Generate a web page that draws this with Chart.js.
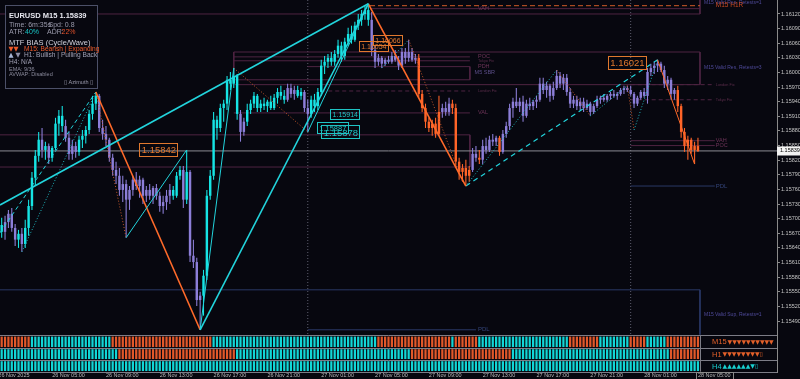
<!DOCTYPE html>
<html><head><meta charset="utf-8">
<script src="https://cdn.jsdelivr.net/npm/chart.js@4.4.1/dist/chart.umd.min.js"></script>
<style>
html,body{margin:0;padding:0;background:#07070f;overflow:hidden}
#wrap{position:relative;width:800px;height:379px}
canvas{display:block}
</style></head><body>
<div id="wrap"><canvas id="chart"></canvas></div>
<script>
// ---------------- DATA (EURUSD M15, 26 Nov 01:15 -> 28 Nov 05:00) ----------------
const opens = [
1.15687,1.15673,1.15693,1.15710,1.15681,1.15657,1.15669,1.15648,1.15681,1.15726,
1.15784,1.15829,1.15862,1.15841,1.15849,1.15825,1.15845,1.15895,1.15911,1.15890,
1.15866,1.15833,1.15849,1.15837,1.15862,1.15870,1.15882,1.15915,1.15936,1.15952,
1.15886,1.15874,1.15862,1.15825,1.15800,1.15788,1.15759,1.15771,1.15739,1.15759,
1.15780,1.15767,1.15780,1.15747,1.15759,1.15747,1.15763,1.15747,1.15726,1.15734,
1.15747,1.15759,1.15747,1.15788,1.15800,1.15739,1.15796,1.15624,1.15611,1.15533,
1.15542,1.15583,1.15747,1.15788,1.15903,1.15886,1.15927,1.15936,1.15985,1.15977,
1.15993,1.15915,1.15878,1.15899,1.15923,1.15936,1.15952,1.15927,1.15936,1.15931,
1.15940,1.15927,1.15948,1.15960,1.15952,1.15944,1.15968,1.15956,1.15964,1.15952,
1.15960,1.15927,1.15915,1.15944,1.15931,1.15960,1.16014,1.16022,1.16030,1.16022,
1.16038,1.16055,1.16034,1.16063,1.16079,1.16067,1.16096,1.16108,1.16120,1.16128,
1.16108,1.16046,1.16022,1.16030,1.16018,1.16026,1.16022,1.16034,1.16026,1.16014,
1.16042,1.16030,1.16042,1.16026,1.16030,1.15956,1.15927,1.15899,1.15886,1.15895,
1.15874,1.15919,1.15927,1.15919,1.15936,1.15927,1.15817,1.15796,1.15804,1.15788,
1.15800,1.15833,1.15825,1.15821,1.15849,1.15841,1.15862,1.15858,1.15866,1.15837,
1.15874,1.15890,1.15927,1.15940,1.15931,1.15940,1.15911,1.15936,1.15931,1.15940,
1.15944,1.15977,1.15964,1.15973,1.15952,1.15968,1.15993,1.15977,1.15989,1.15960,
1.15936,1.15944,1.15931,1.15940,1.15927,1.15936,1.15919,1.15931,1.15944,1.15948,
1.15944,1.15952,1.15956,1.15952,1.15956,1.15964,1.15968,1.15964,1.15956,1.15936,
1.15948,1.15960,1.15952,1.16001,1.16009,1.16014,1.16018,1.16005,1.15977,1.15985,
1.15956,1.15964,1.15931,1.15878,1.15849,1.15862,1.15841,1.15849];
const highs = [
1.15702,1.15706,1.15718,1.15722,1.15689,1.15677,1.15681,1.15698,1.15739,1.15796,
1.15841,1.15878,1.15886,1.15858,1.15854,1.15849,1.15907,1.15923,1.15931,1.15903,
1.15878,1.15862,1.15858,1.15870,1.15882,1.15890,1.15923,1.15952,1.15960,1.15956,
1.15903,1.15890,1.15866,1.15833,1.15817,1.15804,1.15788,1.15780,1.15767,1.15788,
1.15796,1.15788,1.15784,1.15767,1.15771,1.15767,1.15771,1.15755,1.15747,1.15759,
1.15771,1.15767,1.15796,1.15808,1.15808,1.15841,1.15800,1.15657,1.15620,1.15550,
1.15595,1.15759,1.15800,1.15919,1.15911,1.15936,1.15944,1.15993,1.16001,1.16009,
1.15997,1.15923,1.15907,1.15936,1.15944,1.15960,1.15956,1.15944,1.15948,1.15944,
1.15952,1.15956,1.15968,1.15973,1.15964,1.15977,1.15977,1.15973,1.15973,1.15968,
1.15964,1.15944,1.15952,1.15956,1.15968,1.16026,1.16034,1.16038,1.16042,1.16046,
1.16067,1.16063,1.16071,1.16092,1.16096,1.16104,1.16120,1.16128,1.16137,1.16141,
1.16124,1.16055,1.16038,1.16034,1.16030,1.16034,1.16042,1.16046,1.16034,1.16050,
1.16050,1.16067,1.16050,1.16038,1.16038,1.15964,1.15936,1.15907,1.15903,1.15907,
1.15952,1.15936,1.15940,1.15948,1.15944,1.15936,1.15825,1.15812,1.15821,1.15808,
1.15845,1.15849,1.15841,1.15862,1.15866,1.15870,1.15874,1.15870,1.15870,1.15882,
1.15899,1.15936,1.15948,1.15968,1.15948,1.15952,1.15944,1.15948,1.15944,1.15952,
1.15989,1.15989,1.15981,1.15977,1.15981,1.16005,1.16001,1.15997,1.15997,1.15968,
1.15952,1.15952,1.15948,1.15948,1.15944,1.15940,1.15936,1.15952,1.15952,1.15956,
1.15956,1.15960,1.15964,1.15960,1.15968,1.15973,1.15973,1.15973,1.15960,1.15952,
1.15964,1.15968,1.16009,1.16018,1.16022,1.16026,1.16022,1.16014,1.15993,1.15989,
1.15968,1.15973,1.15936,1.15886,1.15870,1.15866,1.15858,1.15866];
const lows = [
1.15661,1.15657,1.15681,1.15673,1.15644,1.15640,1.15632,1.15640,1.15665,1.15718,
1.15767,1.15817,1.15825,1.15821,1.15812,1.15817,1.15841,1.15870,1.15878,1.15858,
1.15821,1.15821,1.15825,1.15829,1.15845,1.15854,1.15874,1.15903,1.15923,1.15878,
1.15862,1.15849,1.15817,1.15788,1.15771,1.15747,1.15734,1.15661,1.15718,1.15747,
1.15759,1.15743,1.15730,1.15734,1.15739,1.15730,1.15739,1.15714,1.15710,1.15718,
1.15730,1.15739,1.15743,1.15780,1.15722,1.15730,1.15611,1.15599,1.15521,1.15472,
1.15501,1.15574,1.15739,1.15780,1.15862,1.15878,1.15899,1.15923,1.15964,1.15968,
1.15903,1.15858,1.15870,1.15890,1.15915,1.15927,1.15919,1.15919,1.15923,1.15919,
1.15923,1.15923,1.15936,1.15944,1.15936,1.15940,1.15948,1.15944,1.15948,1.15944,
1.15919,1.15878,1.15907,1.15919,1.15923,1.15952,1.15997,1.16009,1.16014,1.16014,
1.16030,1.16022,1.16026,1.16055,1.16059,1.16063,1.16087,1.16096,1.16108,1.16096,
1.16034,1.16009,1.16014,1.16009,1.16014,1.16018,1.16018,1.16022,1.16005,1.16009,
1.16018,1.16022,1.16022,1.16018,1.15948,1.15919,1.15886,1.15878,1.15870,1.15866,
1.15870,1.15907,1.15911,1.15911,1.15915,1.15804,1.15780,1.15776,1.15767,1.15776,
1.15796,1.15817,1.15812,1.15812,1.15833,1.15837,1.15849,1.15849,1.15829,1.15833,
1.15866,1.15882,1.15907,1.15927,1.15919,1.15899,1.15907,1.15923,1.15923,1.15927,
1.15940,1.15956,1.15948,1.15940,1.15944,1.15964,1.15968,1.15964,1.15952,1.15927,
1.15927,1.15923,1.15923,1.15919,1.15923,1.15911,1.15915,1.15927,1.15936,1.15940,
1.15940,1.15944,1.15948,1.15944,1.15952,1.15956,1.15960,1.15952,1.15927,1.15931,
1.15944,1.15948,1.15936,1.15993,1.15997,1.16001,1.16001,1.15968,1.15964,1.15944,
1.15944,1.15919,1.15866,1.15837,1.15821,1.15833,1.15812,1.15837];
const closes = [
1.15673,1.15693,1.15710,1.15681,1.15657,1.15669,1.15648,1.15681,1.15726,1.15784,
1.15829,1.15862,1.15841,1.15849,1.15825,1.15845,1.15895,1.15911,1.15890,1.15866,
1.15833,1.15849,1.15837,1.15862,1.15870,1.15882,1.15915,1.15936,1.15952,1.15886,
1.15874,1.15862,1.15825,1.15800,1.15788,1.15759,1.15771,1.15739,1.15759,1.15780,
1.15767,1.15780,1.15747,1.15759,1.15747,1.15763,1.15747,1.15726,1.15734,1.15747,
1.15759,1.15747,1.15788,1.15800,1.15739,1.15796,1.15624,1.15611,1.15533,1.15542,
1.15583,1.15747,1.15788,1.15903,1.15886,1.15927,1.15936,1.15985,1.15977,1.15993,
1.15915,1.15878,1.15899,1.15923,1.15936,1.15952,1.15927,1.15936,1.15931,1.15940,
1.15927,1.15948,1.15960,1.15952,1.15944,1.15968,1.15956,1.15964,1.15952,1.15960,
1.15927,1.15915,1.15944,1.15931,1.15960,1.16014,1.16022,1.16030,1.16022,1.16038,
1.16055,1.16034,1.16063,1.16079,1.16067,1.16096,1.16108,1.16120,1.16128,1.16108,
1.16046,1.16022,1.16030,1.16018,1.16026,1.16022,1.16034,1.16026,1.16014,1.16042,
1.16030,1.16042,1.16026,1.16030,1.15956,1.15927,1.15899,1.15886,1.15895,1.15874,
1.15919,1.15927,1.15919,1.15936,1.15927,1.15817,1.15796,1.15804,1.15788,1.15800,
1.15833,1.15825,1.15821,1.15849,1.15841,1.15862,1.15858,1.15866,1.15837,1.15874,
1.15890,1.15927,1.15940,1.15931,1.15940,1.15911,1.15936,1.15931,1.15940,1.15944,
1.15977,1.15964,1.15973,1.15952,1.15968,1.15993,1.15977,1.15989,1.15960,1.15936,
1.15944,1.15931,1.15940,1.15927,1.15936,1.15919,1.15931,1.15944,1.15948,1.15944,
1.15952,1.15956,1.15952,1.15956,1.15964,1.15968,1.15964,1.15956,1.15936,1.15948,
1.15960,1.15952,1.16001,1.16009,1.16014,1.16018,1.16005,1.15977,1.15985,1.15956,
1.15964,1.15931,1.15878,1.15849,1.15862,1.15841,1.15849,1.15839];
// candle trend state: c = bullish (cyan), p = neutral (purple), o = bearish (orange)
const candleTrend =
 "cppppcpc"+"cccc"+"p"+"c"+"p"+"cccc"+"pppp"+"cccccc"+
 "pppppppppppppppppppppp"+
 "ccc"+"p"+"c"+"pppp"+"ccccccccccc"+"pp"+"cccccccccccc"+"ppp"+"cc"+"pp"+"cccccccccccccccccc"+
 "pppppppppppppp"+"ooooooo"+"ppp"+"oooooo"+"pp"+"o"+"ppppp"+"o"+
 "pppppppppppppppppppppppppppppppppppppppppppppppppppp"+"ooooooo";
// MTF bias strip runs (o = bearish, c = bullish), one stripe per candle
const biasM15 = [['o',9],['c',24],['o',30],['c',49],['o',22],['c',1],['o',7],['c',27],['o',9],['c',9],['o',5],['c',6],['o',10]];
const biasH1  = [['c',35],['o',35],['c',52],['o',30],['c',47],['o',9]];
const biasH4  = [['c',208]];
// time axis
const timeTickIndex  = [-1,15,31,47,63,79,95,111,127,143,159,175,191,207];
const timeTickLabels = ['26 Nov 2025','26 Nov 05:00','26 Nov 09:00','26 Nov 13:00','26 Nov 17:00','26 Nov 21:00',
  '27 Nov 01:00','27 Nov 05:00','27 Nov 09:00','27 Nov 13:00','27 Nov 17:00','27 Nov 21:00','28 Nov 01:00','28 Nov 05:00'];
const priceTicks = [1.16120,1.16090,1.16060,1.16030,1.16000,1.15970,1.15940,1.15910,1.15880,1.15850,1.15820,
  1.15790,1.15760,1.15730,1.15700,1.15670,1.15640,1.15610,1.15580,1.15550,1.15520,1.15490];
// wave / trend lines  [candleIndex, price]
const waveUpA     = [[-0.5,1.15728],[109,1.16141]];
const waveUpB     = [[59,1.15472],[109,1.16141]];
const legUpC      = [[59,1.15472],[69,1.16009]];
const legUpD      = [[37,1.15661],[55,1.15841]];
const legUpE      = [[91,1.15878],[109,1.16141]];
const waveDownA   = [[28,1.15960],[59,1.15472]];
const waveDownB   = [[109,1.16141],[138,1.15767]];
const legDownC    = [[195,1.16026],[206,1.15812]];
const waveUpDash  = [[138,1.15767],[195,1.16026]];
const upDash2     = [[-0.5,1.15671],[28,1.15960]];
const upDots      = [[[6,1.15632],[28,1.15960]],[[138,1.15767],[165,1.16005]],[[175,1.15911],[186,1.15973]],[[188,1.15882],[195,1.16026]],[[113,1.16009],[121,1.16067]]];
const downDots    = [[[28,1.15960],[37,1.15661]],[[69,1.16009],[91,1.15878]],[[165,1.16005],[175,1.15911]],[[186,1.15973],[188,1.15882]],[[121,1.16067],[137,1.15776]]];
// price-tag labels of swing points
const swingTagValues = [1.15842,1.16066,1.16054,1.16021];
const swingTagIndex  = [46.6,114.7,110.5,185.9];
const pivotTagValues = [1.15914,1.15887,1.15878];
const pivotTagIndex  = [102,98.3,100.7];
// levels [fromIndex, toIndex, price]
const zoneLines   = [[109.5,207.6,1.16131],[-0.5,207.6,1.16120],[69,207.6,1.16042],[69,139.2,1.16032],[69,139.2,1.16024],
  [91,139.2,1.16012],[69,139.2,1.15985],[69,207.6,1.15975],[69,139.2,1.15917],[-0.5,139.2,1.15872],[-0.5,139.2,1.15806],
  [187,212,1.15860],[187,212,1.15850]];
const fixLines    = [[95,139.2,1.15962],[187,212,1.15975],[187,212,1.15944]];
const lowLines    = [[187,212,1.15767],[-0.5,207.6,1.15554],[91,141,1.15472]];
const vahDashLine = [[109.5,207.6,1.16137]];
// vertical zone edges [index, priceTop, priceBottom]
const zoneEdges   = [[207.6,1.16149,1.16120],[207.6,1.16042,1.15975],[139.2,1.16012,1.15985],[139.2,1.15872,1.15806],[69,1.16042,1.15985]];
const supEdges    = [[207.6,1.15554,1.15462]];
const daySeparators = [91,187];
const levelTags = [
 ['VAH',141.6,1.16131],['POC',141.6,1.16032],['Tokyo Fix',141.6,1.16024],['PDH',141.6,1.16012],['M5 SBR',140.6,1.16000],
 ['London Fix',141.6,1.15962],['VAL',141.6,1.15917],['PDL',141.6,1.15472],
 ['M15 Valid Res, Retests=1',208.8,1.16143],['M15 H1R',212.3,1.16137],['M15 Valid Res, Retests=3',208.8,1.16009],
 ['London Fix',212.3,1.15975],['Tokyo Fix',212.3,1.15944],['VAH',212.3,1.15860],['POC',212.3,1.15850],
 ['PDL',212.3,1.15767],['M15 Valid Sup, Retests=1',208.8,1.15503]];

// ---------------- STYLE / LAYOUT ----------------
const BG = '#07070f';
const COL = {c:'#16e4e4', p:'#8c7ed8', o:'#ff6428'};
const BIAS = {c:'#12d6d6', o:'#e2582a'};
const CYAN_LN = '#22d4dc', ORANGE_LN = '#ff6a2a';
const MAROON = '#4e2442', BLUE_LN = '#2a3866';
const FONT = '"Liberation Sans", Arial, sans-serif';
const X_MIN = -0.5, X_MAX = 230.5;
const Y_MAX = 1.161487, Y_MIN = 1.153854;   // pixel 0 .. 372
const IND_MAX = 31;                          // 12 px per unit on the strip axis
const ROWS = [[28.05,28.92],[29.1,29.92],[30.1,30.92]];
const BOTTOM_PRICE = 1.15462;

function expand(runs){ const out=[]; runs.forEach(([s,n])=>{ for(let k=0;k<n;k++) out.push(s); }); return out; }
const candleCol = candleTrend.split('').map(ch=>COL[ch]);

function lineDs(points, color, width, dash, order){
  return {type:'line', data: points.map(p=>({x:p[0], y:p[1]})), borderColor:color, borderWidth:width,
    borderDash:dash||[], pointRadius:0, fill:false, tension:0, yAxisID:'y', order:order, spanGaps:true};
}
const datasets = [];
zoneLines.forEach(l=>datasets.push(lineDs([[l[0],l[2]],[l[1],l[2]]], MAROON, 1, [], 10)));
fixLines.forEach(l=>datasets.push(lineDs([[l[0],l[2]],[l[1],l[2]]], MAROON, 1, [4,3], 10)));
lowLines.forEach(l=>datasets.push(lineDs([[l[0],l[2]],[l[1],l[2]]], BLUE_LN, 1, [], 10)));
vahDashLine.forEach(l=>datasets.push(lineDs([[l[0],l[2]],[l[1],l[2]]], '#d05a28', 1, [5,3], 10)));
zoneEdges.forEach(e=>datasets.push(lineDs([[e[0],e[1]],[e[0],e[2]]], MAROON, 1, [], 10)));
supEdges.forEach(e=>datasets.push(lineDs([[e[0],e[1]],[e[0],e[2]]], BLUE_LN, 1, [], 10)));
daySeparators.forEach(d=>datasets.push(lineDs([[d,Y_MAX],[d,BOTTOM_PRICE]], '#5e5e6e', 1, [1,2], 10)));
datasets.push(lineDs([[X_MIN,closes[closes.length-1]],[X_MAX,closes[closes.length-1]]], '#8c8c94', 1, [], 9));
// candles
datasets.push({type:'bar', data: highs.map((h,i)=>({x:i, y:[lows[i], h]})), backgroundColor:candleCol,
  grouped:false, categoryPercentage:1, barPercentage:0.32, borderWidth:0, inflateAmount:0, yAxisID:'y', order:6});
datasets.push({type:'bar', data: opens.map((o,i)=>({x:i, y:[o, closes[i]]})), backgroundColor:candleCol,
  grouped:false, categoryPercentage:1, barPercentage:0.72, borderWidth:0, inflateAmount:0, minBarLength:1, yAxisID:'y', order:5});
// MTF bias strips
[biasM15, biasH1, biasH4].forEach((runs, r)=>{
  const st = expand(runs);
  datasets.push({type:'bar', data: st.map((s,i)=>({x:i, y:ROWS[r]})), backgroundColor: st.map(s=>BIAS[s]),
    grouped:false, categoryPercentage:1, barPercentage:0.66, borderWidth:0, inflateAmount:0, yAxisID:'yInd', order:4});
});
// wave lines
datasets.push(lineDs(waveUpA, CYAN_LN, 1.6, [], 1));
datasets.push(lineDs(waveUpB, CYAN_LN, 1.6, [], 1));
datasets.push(lineDs(legUpC, CYAN_LN, 1, [], 1));
datasets.push(lineDs(legUpD, CYAN_LN, 1, [], 1));
datasets.push(lineDs(legUpE, CYAN_LN, 1, [], 1));
datasets.push(lineDs(waveDownA, ORANGE_LN, 1.6, [], 1));
datasets.push(lineDs(waveDownB, ORANGE_LN, 1.6, [], 1));
datasets.push(lineDs(legDownC, ORANGE_LN, 1, [], 1));
datasets.push(lineDs(waveUpDash, CYAN_LN, 1.2, [5,4], 1));
datasets.push(lineDs(upDash2, CYAN_LN, 1, [4,3], 2));
upDots.forEach(p=>datasets.push(lineDs(p, '#1fb8c0', 1, [1,2], 2)));
downDots.forEach(p=>datasets.push(lineDs(p, '#c8582a', 1, [1,2], 2)));

// ---------------- OVERLAY TEXT PLUGIN ----------------
const overlay = {
  id:'overlay',
  afterDraw(chart){
    const {ctx, scales:{x, y, yInd}} = chart;
    const right = chart.chartArea.right;
    ctx.save();
    ctx.textBaseline='middle'; ctx.textAlign='left';
    levelTags.forEach(([t,i,v])=>{
      let col = '#6e3458', size = 5.5;
      if (t.startsWith('M15 Valid')) { col='#4f4a9a'; size=5; }
      else if (t==='M15 H1R') { col='#c84a22'; size=6.5; }
      else if (t==='PDL') { col='#34457a'; size=6; }
      else if (t==='M5 SBR') { col='#5c4f8a'; size=5.5; }
      else if (t.endsWith('Fix')) { col='#5a2c4a'; size=3.8; }
      ctx.font = size+'px '+FONT; ctx.fillStyle = col;
      ctx.fillText(t, x.getPixelForValue(i), y.getPixelForValue(v));
    });
    function tag(text, idx, val, color, size){
      const px = x.getPixelForValue(idx), py = y.getPixelForValue(val);
      ctx.font = size+'px '+FONT;
      const w = Math.round(ctx.measureText(text).width + 4), h = Math.round(size + 3);
      ctx.strokeStyle = color; ctx.lineWidth = 1;
      ctx.strokeRect(Math.round(px - w/2)+0.5, Math.round(py - h/2)+0.5, w, h);
      ctx.fillStyle = color; ctx.textAlign='center'; ctx.textBaseline='middle';
      ctx.fillText(text, px+0.5, py+1);
    }
    const swingSize = [9.5,7,7,9.5];
    swingTagValues.forEach((v,k)=>tag(v.toFixed(5), swingTagIndex[k], v, '#e0782e', swingSize[k]));
    const pivSize = [7,7.5,9.5];
    pivotTagValues.forEach((v,k)=>tag(v.toFixed(5), pivotTagIndex[k], v, '#1fc4c4', pivSize[k]));

    // bias panel frame
    ctx.strokeStyle='#7c7c86'; ctx.lineWidth=1;
    const sepVals=[27.95,29.0,30.0,30.97];
    sepVals.forEach(s=>{ const py=Math.round(yInd.getPixelForValue(s))+0.5; ctx.beginPath(); ctx.moveTo(0,py); ctx.lineTo(right,py); ctx.stroke(); });
    const vx = Math.round(x.getPixelForValue(207.6))+0.5;
    ctx.beginPath(); ctx.moveTo(vx, yInd.getPixelForValue(27.95)); ctx.lineTo(vx, yInd.getPixelForValue(30.97)); ctx.stroke();
    ctx.fillStyle=BG; ctx.fillRect(vx+0.5, yInd.getPixelForValue(27.95)+1, right-vx-1, yInd.getPixelForValue(30.97)-yInd.getPixelForValue(27.95)-1);
    ctx.strokeStyle='#7c7c86';
    [29.0,30.0].forEach(s=>{ const py=Math.round(yInd.getPixelForValue(s))+0.5; ctx.beginPath(); ctx.moveTo(vx,py); ctx.lineTo(right,py); ctx.stroke(); });
    const rowLabels=[['M15','▼▼▼▼▼▼▼▼▼▼','#e2602a'],['H1','▼▼▼▼▼▼▼▼▯','#e2602a'],['H4','▲▲▲▲▲▲▼▯','#18d0d0']];
    ctx.textAlign='left'; ctx.textBaseline='middle';
    rowLabels.forEach((r,k)=>{
      const py = yInd.getPixelForValue((ROWS[k][0]+ROWS[k][1])/2)+0.5;
      ctx.font='7.5px '+FONT; ctx.fillStyle=r[2]; ctx.fillText(r[0], 712, py);
      const w = ctx.measureText(r[0]).width;
      ctx.font='6px "DejaVu Sans", sans-serif'; ctx.fillText(r[1], 712+w+1, py);
    });

    // current price label on axis
    const last = closes[closes.length-1];
    const ply = y.getPixelForValue(last);
    ctx.fillStyle='#f2f2f2'; ctx.fillRect(right, Math.round(ply)-4.5, 23, 9);
    ctx.fillStyle='#000'; ctx.font='5.5px '+FONT; ctx.textAlign='left'; ctx.textBaseline='middle';
    ctx.fillText(last.toFixed(5), right+3, ply);

    // boxed last time label
    ctx.font='5.5px '+FONT;
    const tx = x.getPixelForValue(timeTickIndex[timeTickIndex.length-1]);
    const tw = ctx.measureText(timeTickLabels[timeTickLabels.length-1]).width;
    ctx.strokeStyle='#8a8a8a'; ctx.strokeRect(Math.round(tx)-1.5, 372.5, Math.round(tw)+4, 7);

    // info panel
    ctx.fillStyle=BG; ctx.fillRect(5,5,93,84);
    ctx.strokeStyle='#4c5068'; ctx.lineWidth=1; ctx.strokeRect(5.5,5.5,92,83);
    ctx.textAlign='left'; ctx.textBaseline='alphabetic';
    ctx.font='bold 7.5px '+FONT; ctx.fillStyle='#e6e6ee'; ctx.fillText('EURUSD M15 1.15839', 9, 18.3);
    ctx.font='7px '+FONT; ctx.fillStyle='#9a9aac';
    ctx.fillText('Time: 6m:35s', 9, 26.5); ctx.fillText('Spd: 0.8', 48.5, 26.5);
    ctx.fillText('ATR:', 9, 34.3); ctx.fillText('ADR:', 47, 34.3);
    ctx.fillStyle='#19c4c4'; ctx.fillText('40%', 25, 34.3);
    ctx.fillStyle='#e0502a'; ctx.fillText('22%', 61.5, 34.3);
    ctx.font='7.5px '+FONT; ctx.fillStyle='#d0d0da'; ctx.fillText('MTF BIAS (Cycle/Wave)', 9, 44.5);
    ctx.font='6.5px "DejaVu Sans", sans-serif'; ctx.fillStyle='#ec5a2a'; ctx.fillText('▼▼', 8.5, 51);
    ctx.font='6.6px '+FONT; ctx.fillText('M15: Bearish | Expanding', 24, 51);
    ctx.font='6.5px "DejaVu Sans", sans-serif'; ctx.fillStyle='#a8b6d6'; ctx.fillText('▲', 8.5, 57.3);
    ctx.fillStyle='#9090a8'; ctx.fillText('▼', 15.5, 57.3);
    ctx.font='6.6px '+FONT; ctx.fillStyle='#a0a0b4'; ctx.fillText('H1: Bullish | Pulling Back', 24, 57.3);
    ctx.fillText('H4: N/A', 9, 63.5);
    ctx.font='5.5px '+FONT; ctx.fillStyle='#8a8a9c';
    ctx.fillText('EMA: 9/36', 9, 70.8); ctx.fillText('AVWAP: Disabled', 9, 75.5);
    ctx.textAlign='right'; ctx.fillStyle='#9a9aac'; ctx.fillText('▯ Azimuth ▯', 93, 83.5);
    ctx.restore();
  }
};

const bgPlugin = { id:'bg', beforeDraw(chart){ const c=chart.ctx; c.save(); c.fillStyle=BG; c.fillRect(0,0,chart.width,chart.height); c.restore(); } };

new Chart(document.getElementById('chart'), {
  type:'bar',
  data:{ datasets },
  options:{
    responsive:true, maintainAspectRatio:false, devicePixelRatio:1, animation:false, events:[],
    layout:{ padding:0 },
    plugins:{ legend:{display:false}, tooltip:{enabled:false} },
    scales:{
      x:{ type:'linear', min:X_MIN, max:X_MAX, offset:false, position:'bottom',
        grid:{display:false, drawTicks:false}, border:{display:false},
        ticks:{ autoSkip:false, maxRotation:0, minRotation:0, align:'start', padding:0, color:'#b8b8b8',
          font:{family:FONT, size:5.5}, callback:(v,i)=>timeTickLabels[i] },
        afterBuildTicks:s=>{ s.ticks = timeTickIndex.map(v=>({value:v})); },
        afterFit:s=>{ s.height=7; s.paddingLeft=0; s.paddingRight=0; } },
      y:{ type:'linear', position:'right', min:Y_MIN, max:Y_MAX,
        grid:{drawOnChartArea:false, drawTicks:true, tickLength:3, color:'#8a8a8a'},
        border:{display:true, color:'#8a8a8a'},
        ticks:{ padding:1, color:'#c4c4c4', font:{family:FONT, size:5.5}, callback:v=>Number(v).toFixed(5) },
        afterBuildTicks:s=>{ s.ticks = priceTicks.map(v=>({value:v})); },
        afterFit:s=>{ s.width=23; s.paddingTop=0; s.paddingBottom=0; } },
      yInd:{ type:'linear', display:false, position:'left', min:0, max:IND_MAX, reverse:true }
    }
  },
  plugins:[bgPlugin, overlay]
});
</script>
</body></html>
